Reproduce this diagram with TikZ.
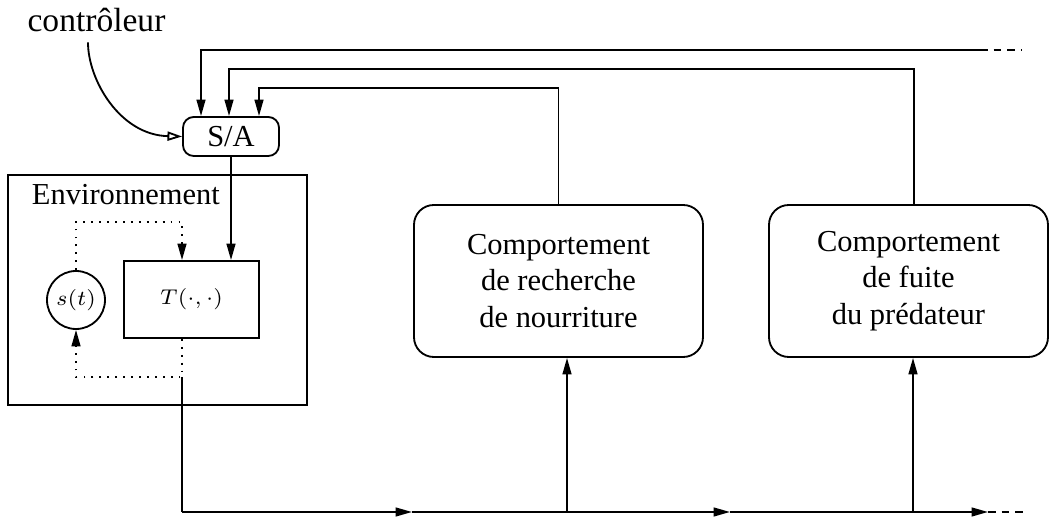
\documentclass[tikz,border=0pt]{standalone}
\usepackage{fontspec}
\setmainfont{Liberation Serif}
\usetikzlibrary{arrows.meta,calc}
\newcommand{\pxu}{0.328pt}
\tikzset{
	arr/.style={-{Triangle[length=5.4pt,width=2.9pt]}},
	openarr/.style={-{Triangle[open,length=4.8pt,width=3pt]}},
	behav/.style={draw, rounded corners=6.5pt, align=center, minimum height=152*\pxu},
	fade/.style={dash pattern=on 2.5pt off 2pt},
}
\begin{document}
\begin{tikzpicture}[x=\pxu, y=-\pxu, line width=0.6pt]
		\useasboundingbox (0,0) rectangle (1049,517);
		\node[font=\fontsize{11}{13}\selectfont, anchor=base] (ctrl) at (96.5,32) {contrôleur};
		\node[draw, rounded corners=3.5pt, minimum width=96*\pxu, minimum height=39*\pxu, inner sep=0pt] (sa) at (231,136.5) {S/A};
		\node[draw, minimum width=299*\pxu, minimum height=230*\pxu] (env) at (157.5,290) {};
		\node[anchor=base west, inner sep=0pt] (envlabel) at (31,205) {Environnement};
		\node[draw, minimum width=135*\pxu, minimum height=77*\pxu, font=\scriptsize] (trans) at (191.5,299.5) {$T(\cdot,\cdot)$};
		\node[draw, circle, minimum size=58*\pxu, inner sep=0pt, font=\scriptsize] (st) at (76,300) {$s(t)$};
		\node[behav, minimum width=289*\pxu] (food) at (558.5,281) {Comportement\\de recherche\\de nourriture};
		\node[behav, minimum width=279*\pxu] (flee) at (908.5,281) {Comportement\\de fuite\\du prédateur};

		\coordinate (in1) at ($(sa.north)+(-30,0)$);
		\coordinate (in2) at ($(sa.north)+(-2,0)$);
		\coordinate (in3) at ($(sa.north)+(28,0)$);
		\coordinate (top1) at (980,50);
		\coordinate (dtop) at (182,222);
		\coordinate (dbot) at (182,377);
		\coordinate (bus0) at (182,512);
		\coordinate (a1) at (412,512);
		\coordinate (a2) at (730,512);
		\coordinate (a3) at (988,512);
		\coordinate (busend) at (1029,512);
		\coordinate (j1) at (567,512);
		\coordinate (j2) at (913,512);

		\draw[openarr] ($(ctrl.south)+(-8.5,-1)$) .. controls (88,80) and (120,135) .. (sa.west);
		\draw[arr] (top1) -| (in1);
		\draw[fade] (top1) -- (1022,50);
		\draw[arr] ($(flee.north)+(5.5,0)$) -- ++(0,-135) -| (in2);
		\draw[arr] (food.north) -- ++(0,-116) -| (in3);
		\draw[arr] (sa.south) -- (sa.south |- trans.north);

		\draw[arr, dotted] (st.north) |- (dtop) -- (dtop |- trans.north);
		\draw[arr, dotted] (dbot |- trans.south) -- (dbot) -| (st.south);

		\draw (dbot) -- (bus0);
		\draw[arr] (bus0) -- (a1);
		\draw[arr] (a1) -- (a2);
		\draw[arr] (a2) -- (a3);
		\draw[fade] (a3) -- (busend);
		\draw[arr] (j1) -- (j1 |- food.south);
		\draw[arr] (j2) -- (j2 |- flee.south);
	\end{tikzpicture}
\end{document}
